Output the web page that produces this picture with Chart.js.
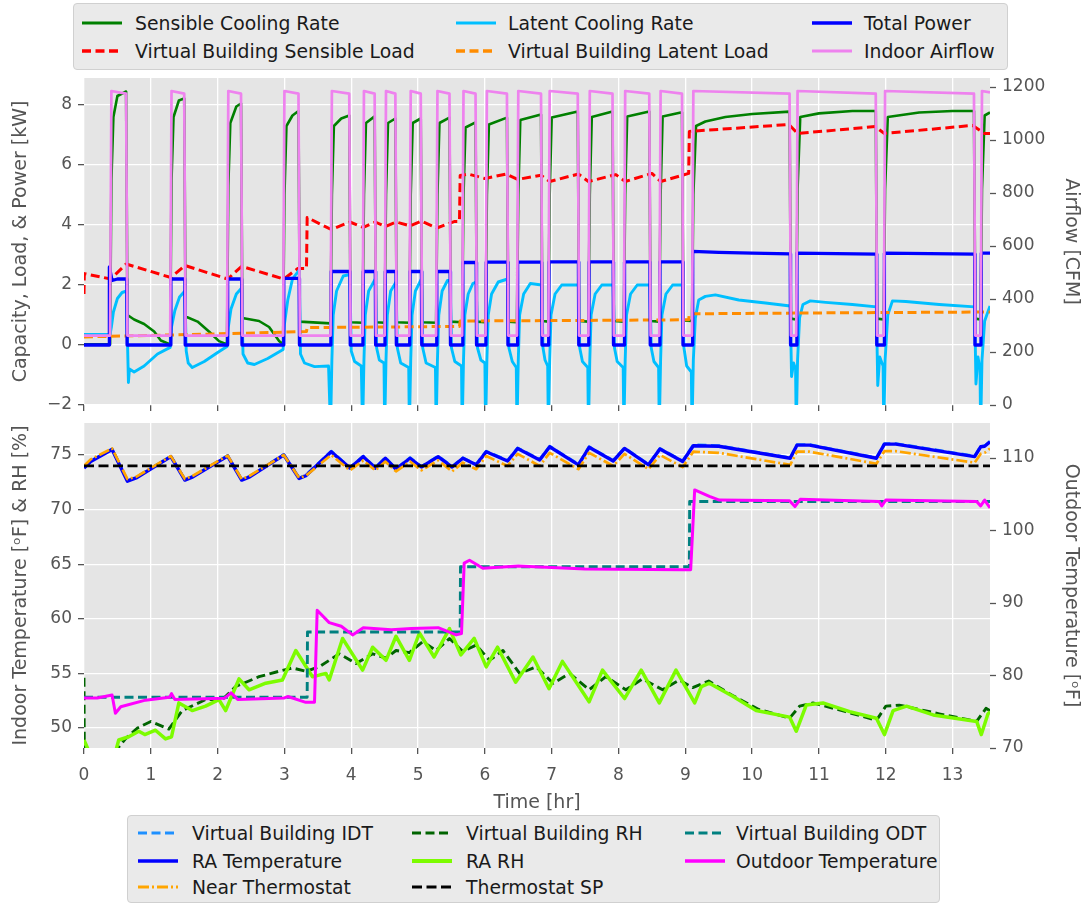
<!DOCTYPE html>
<html>
<head>
<meta charset="utf-8">
<script src="https://cdn.jsdelivr.net/npm/chart.js@4.4.1/dist/chart.umd.min.js"></script>
<style>
  body { margin: 0; background: #fff; width: 1085px; height: 907px; position: relative; overflow: hidden; font-family: 'DejaVu Sans', sans-serif; }
  canvas { position: absolute; left: 0; }
  #topChart { top: 72px; }
  #bottomChart { top: 415px; }
  .legend { position: absolute; background: #eaeaea; border: 1px solid #d0d0d0; border-radius: 4px; box-sizing: border-box; }
  .legend .item { position: absolute; height: 20px; display: flex; align-items: center; white-space: nowrap; font-size: 18.8px; color: #1a1a1a; }
  .legend svg { position: absolute; }
</style>
</head>
<body>
<div id="legendTop" class="legend" style="left:73px; top:3px; width:935px; height:67px;"></div>
<canvas id="topChart" width="1085" height="345"></canvas>
<canvas id="bottomChart" width="1085" height="400"></canvas>
<div id="legendBottom" class="legend" style="left:127px; top:815px; width:813px; height:88px;"></div>
<script>
// ---- tick values ----
const hourTicks = [0,1,2,3,4,5,6,7,8,9,10,11,12,13];
const kwTicks = [-2,0,2,4,6,8];
const cfmTicks = [0,200,400,600,800,1000,1200];
const indoorTicks = [50,55,60,65,70,75];
const outdoorTicks = [70,80,90,100,110];

// ---- upper panel: capacity, load, power [kW] and airflow [CFM] vs time [hr] ----
const sensibleCooling = [
  [0,0.02],[0.39,0.02],[0.41,5.5],[0.44,7.6],[0.5,8.3],[0.63,8.45],[0.65,1.0],[0.75,0.85],[0.9,0.7],[1.05,0.45],[1.15,0.15],[1.29,0.02],
  [1.31,5.5],[1.34,7.6],[1.42,8.15],[1.50,8.22],[1.52,0.95],[1.7,0.78],[1.87,0.45],[2.02,0.13],[2.14,0.02],
  [2.16,5.3],[2.19,7.4],[2.28,7.95],[2.35,8.05],[2.37,0.9],[2.62,0.8],[2.77,0.6],[2.92,0.13],[2.98,0.02],
  [3.00,5.0],[3.03,7.3],[3.12,7.65],[3.21,7.8],[3.23,0.78],[3.69,0.72],
  [3.71,5.0],[3.74,7.3],[3.85,7.55],[3.97,7.65],[3.99,0.76],[4.17,0.74],
  [4.19,5.0],[4.22,7.4],[4.35,7.62],[4.37,0.76],[4.50,0.74],
  [4.52,5.0],[4.55,7.4],[4.66,7.55],[4.68,0.76],[4.87,0.74],
  [4.89,5.0],[4.92,7.4],[5.04,7.55],[5.06,0.76],[5.27,0.74],
  [5.29,5.0],[5.32,7.4],[5.47,7.58],[5.49,0.78],[5.66,0.76],
  [5.68,5.0],[5.71,7.25],[5.86,7.42],[5.88,0.78],[6.01,0.76],
  [6.03,5.0],[6.06,7.35],[6.33,7.58],[6.35,0.78],[6.48,0.76],
  [6.50,5.0],[6.53,7.5],[6.84,7.68],[6.86,0.8],[6.95,0.78],
  [6.97,5.0],[7.0,7.58],[7.39,7.78],[7.41,0.8],[7.55,0.78],
  [7.57,5.0],[7.6,7.6],[7.91,7.78],[7.93,0.8],[8.08,0.78],
  [8.10,5.0],[8.13,7.62],[8.46,7.78],[8.48,0.8],[8.61,0.78],
  [8.63,5.0],[8.66,7.62],[8.95,7.76],[8.97,0.82],[9.10,0.8],
  [9.12,5.0],[9.16,7.3],[9.3,7.45],[9.6,7.6],[10.0,7.7],[10.56,7.78],[10.58,0.88],[10.66,0.85],
  [10.68,5.2],[10.72,7.6],[11.0,7.72],[11.5,7.8],[11.85,7.8],[11.87,0.88],[11.97,0.85],
  [11.99,5.2],[12.03,7.6],[12.5,7.75],[13.0,7.8],[13.32,7.8],[13.34,0.88],[13.42,0.85],
  [13.44,5.2],[13.48,7.65],[13.56,7.75]
];

const latentCooling = [
  [0,0.35],[0.39,0.35],[0.41,0.6],[0.44,1.1],[0.5,1.55],[0.57,1.75],[0.64,1.8],[0.65,0.2],[0.665,-1.25],[0.68,-0.8],[0.75,-0.9],[0.9,-0.7],[1.1,-0.3],[1.29,-0.08],
  [1.31,0.6],[1.36,1.15],[1.43,1.6],[1.51,1.8],[1.53,-0.2],[1.56,-0.6],[1.62,-0.75],[1.8,-0.55],[2.0,-0.25],[2.14,-0.05],
  [2.16,0.6],[2.2,1.2],[2.28,1.7],[2.36,1.9],[2.38,-0.3],[2.45,-0.6],[2.55,-0.65],[2.75,-0.45],[2.98,-0.15],
  [3.00,0.7],[3.05,1.5],[3.12,2.2],[3.22,2.5],[3.24,-0.3],[3.3,-0.6],[3.45,-0.72],[3.66,-0.7],[3.69,-2.8],
  [3.71,-0.5],[3.73,1.0],[3.78,1.8],[3.88,2.3],[3.98,2.35],[4.0,-0.2],[4.05,-0.55],[4.15,-0.7],[4.17,-2.8],
  [4.19,-0.5],[4.21,1.0],[4.26,1.8],[4.36,2.2],[4.38,-0.1],[4.42,-0.5],[4.49,-0.6],[4.50,-2.8],
  [4.52,-0.5],[4.54,1.0],[4.59,1.8],[4.67,2.1],[4.69,-0.1],[4.74,-0.6],[4.86,-0.75],[4.87,-2.8],
  [4.89,-0.5],[4.91,1.0],[4.96,1.8],[5.05,2.2],[5.07,-0.1],[5.12,-0.6],[5.26,-0.75],[5.27,-2.8],
  [5.29,-0.5],[5.31,1.0],[5.36,1.8],[5.44,2.15],[5.48,2.15],[5.5,-0.1],[5.55,-0.55],[5.65,-0.7],[5.66,-2.8],
  [5.68,-0.5],[5.70,1.0],[5.75,1.7],[5.82,2.05],[5.87,2.1],[5.89,-0.1],[5.94,-0.5],[6.0,-0.6],[6.01,-2.8],
  [6.03,-0.5],[6.05,1.0],[6.1,1.7],[6.2,2.1],[6.34,2.2],[6.36,-0.1],[6.41,-0.55],[6.47,-0.75],[6.48,-2.8],
  [6.50,-0.5],[6.52,1.0],[6.58,1.7],[6.68,2.05],[6.85,2.0],[6.87,-0.1],[6.9,-0.5],[6.94,-0.7],[6.95,-2.8],
  [6.97,-0.5],[6.99,1.0],[7.05,1.7],[7.15,2.0],[7.40,2.0],[7.42,-0.1],[7.46,-0.55],[7.54,-0.75],[7.55,-2.8],
  [7.57,-0.5],[7.59,1.0],[7.65,1.7],[7.75,2.0],[7.92,2.0],[7.94,-0.1],[7.98,-0.55],[8.07,-0.75],[8.08,-2.8],
  [8.10,-0.5],[8.12,1.0],[8.18,1.7],[8.28,2.0],[8.47,2.0],[8.49,-0.1],[8.53,-0.55],[8.6,-0.75],[8.61,-2.8],
  [8.63,-0.5],[8.65,1.0],[8.71,1.7],[8.81,2.0],[8.96,2.0],[8.98,-0.1],[9.02,-0.7],[9.09,-0.9],[9.10,-2.8],
  [9.12,-0.5],[9.15,0.9],[9.2,1.5],[9.3,1.62],[9.45,1.67],[9.8,1.5],[10.2,1.4],[10.57,1.3],[10.59,-1.05],[10.62,-0.6],[10.65,-0.8],[10.66,-2.8],
  [10.68,-0.5],[10.71,0.9],[10.76,1.35],[10.87,1.47],[11.1,1.42],[11.5,1.35],[11.86,1.27],[11.88,-1.35],[11.91,-0.4],[11.96,-0.7],[11.97,-2.8],
  [11.99,-0.5],[12.03,1.0],[12.1,1.47],[12.3,1.45],[12.8,1.35],[13.33,1.27],[13.35,-1.3],[13.38,-0.4],[13.41,-0.8],[13.42,-2.8],
  [13.44,-0.5],[13.48,0.8],[13.56,1.3]
];

const totalPower = [
  [0,0],[0.375,0],[0.38,2.6],[0.42,2.15],[0.5,2.2],[0.64,2.2],[0.645,0],
  [1.295,0],[1.30,2.2],[1.51,2.2],[1.515,0],
  [2.145,0],[2.15,2.2],[2.36,2.2],[2.365,0],
  [2.985,0],[2.99,2.22],[3.22,2.22],[3.225,0],
  [3.695,0],[3.70,2.45],[3.98,2.45],[3.985,0],
  [4.175,0],[4.18,2.45],[4.36,2.45],[4.365,0],
  [4.505,0],[4.51,2.45],[4.67,2.45],[4.675,0],
  [4.875,0],[4.88,2.45],[5.05,2.45],[5.055,0],
  [5.275,0],[5.28,2.45],[5.48,2.45],[5.485,0],
  [5.665,0],[5.67,2.75],[5.87,2.75],[5.875,0],
  [6.015,0],[6.02,2.76],[6.34,2.76],[6.345,0],
  [6.485,0],[6.49,2.76],[6.85,2.76],[6.855,0],
  [6.955,0],[6.96,2.77],[7.40,2.77],[7.405,0],
  [7.555,0],[7.56,2.77],[7.92,2.77],[7.925,0],
  [8.085,0],[8.09,2.77],[8.47,2.77],[8.475,0],
  [8.615,0],[8.62,2.77],[8.96,2.77],[8.965,0],
  [9.105,0],[9.11,3.12],[9.5,3.09],[10.0,3.06],[10.57,3.04],[10.575,0],
  [10.665,0],[10.67,3.06],[11.86,3.03],[11.865,0],
  [11.975,0],[11.98,3.06],[13.33,3.03],[13.335,0],
  [13.425,0],[13.43,3.06],[13.56,3.06]
];

const vbSensibleLoad = [
  [0,1.7],[0.005,2.38],[0.40,2.2],[0.63,2.7],[1.30,2.25],[1.51,2.65],[2.15,2.2],[2.36,2.62],[2.99,2.2],[3.20,2.55],[3.33,2.55],
  [3.34,4.25],[3.70,3.85],[3.98,4.1],[4.18,3.92],[4.36,4.1],[4.51,3.95],[4.67,4.1],[4.88,3.97],[5.05,4.13],[5.28,3.9],[5.55,4.12],[5.62,4.12],
  [5.63,5.65],[5.75,5.7],[6.0,5.55],[6.32,5.7],[6.49,5.52],[6.84,5.66],[6.97,5.45],[7.40,5.7],[7.55,5.45],[7.96,5.68],[8.1,5.45],[8.5,5.72],[8.63,5.45],[9.05,5.72],
  [9.06,7.12],[10.55,7.35],[10.68,7.05],[11.84,7.28],[11.98,7.05],[13.3,7.32],[13.48,7.05],[13.56,7.05]
];

const vbLatentLoad = [
  [0,0.27],[1.0,0.32],[2.0,0.37],[3.0,0.43],[3.33,0.45],[3.34,0.58],[4.5,0.6],[5.62,0.62],
  [5.63,0.8],[7.5,0.82],[9.05,0.84],[9.06,1.04],[11.0,1.07],[13.56,1.1]
];

const indoorAirflow = [
  [0,262],[0.39,262],[0.41,1185],[0.63,1175],[0.65,262],
  [1.29,262],[1.31,1185],[1.50,1175],[1.52,262],
  [2.14,262],[2.16,1185],[2.35,1175],[2.37,262],
  [2.98,262],[3.00,1185],[3.21,1175],[3.23,262],
  [3.69,262],[3.71,1185],[3.97,1175],[3.99,262],
  [4.17,262],[4.19,1185],[4.35,1175],[4.37,262],
  [4.50,262],[4.52,1185],[4.66,1175],[4.68,262],
  [4.87,262],[4.89,1185],[5.04,1175],[5.06,262],
  [5.27,262],[5.29,1185],[5.47,1175],[5.49,262],
  [5.66,262],[5.68,1185],[5.86,1175],[5.88,262],
  [6.01,262],[6.03,1185],[6.33,1175],[6.35,262],
  [6.48,262],[6.50,1185],[6.84,1175],[6.86,262],
  [6.95,262],[6.97,1185],[7.39,1175],[7.41,262],
  [7.55,262],[7.57,1185],[7.91,1175],[7.93,262],
  [8.08,262],[8.10,1185],[8.46,1175],[8.48,262],
  [8.61,262],[8.63,1185],[8.95,1175],[8.97,262],
  [9.10,262],[9.12,1185],[10.56,1175],[10.58,262],
  [10.66,262],[10.68,1185],[11.85,1175],[11.87,262],
  [11.97,262],[11.99,1185],[13.32,1175],[13.34,262],
  [13.42,262],[13.44,1185],[13.56,1180]
];

// ---- lower panel: indoor temperature / RH (left) and outdoor temperature (right) ----
const vbIdt = [
  [0,73.85],[0.1,74.45],[0.42,75.55],[0.65,72.65],[0.78,72.95],[1.30,74.9],[1.51,72.75],[1.63,73.05],[2.15,74.95],[2.36,72.75],[2.48,73.05],
  [2.99,75.05],[3.22,72.9],[3.32,73.15],[3.70,75.35],[3.98,73.85],[4.18,74.9],[4.36,73.85],[4.51,74.75],[4.67,73.75],[4.88,74.75],[5.05,73.95],
  [5.30,74.9],[5.51,73.95],[5.67,74.75],[5.87,74.15],[6.02,75.35],[6.34,74.5],[6.49,75.65],[6.82,74.6],[6.97,75.8],[7.40,74.15],[7.56,75.75],
  [7.92,74.5],[8.09,75.65],[8.45,74.15],[8.62,75.6],[8.96,74.45],[9.12,75.95],[9.5,75.85],[10.57,74.75],[10.67,75.95],[10.86,75.95],
  [11.86,74.75],[11.98,76.05],[12.15,76.05],[13.33,74.9],[13.42,75.8],[13.48,75.85],[13.56,76.25]
];

const raTemperature = [
  [0,73.8],[0.1,74.4],[0.42,75.5],[0.65,72.6],[0.78,72.9],[1.30,74.85],[1.51,72.7],[1.63,73.0],[2.15,74.9],[2.36,72.7],[2.48,73.0],
  [2.99,75.0],[3.22,72.85],[3.32,73.1],[3.70,75.3],[3.98,73.8],[4.18,74.85],[4.36,73.8],[4.51,74.7],[4.67,73.7],[4.88,74.7],[5.05,73.9],
  [5.30,74.85],[5.51,73.9],[5.67,74.7],[5.87,74.1],[6.02,75.3],[6.34,74.45],[6.49,75.6],[6.82,74.55],[6.97,75.75],[7.40,74.1],[7.56,75.7],
  [7.92,74.45],[8.09,75.6],[8.45,74.1],[8.62,75.55],[8.96,74.4],[9.12,75.85],[9.5,75.8],[10.57,74.7],[10.67,75.9],[10.86,75.9],
  [11.86,74.7],[11.98,76.0],[12.15,76.0],[13.33,74.85],[13.42,75.75],[13.48,75.8],[13.56,76.2]
];

const nearThermostat = [
  [0,74.0],[0.1,74.6],[0.42,75.6],[0.65,72.8],[0.78,73.0],[1.30,74.9],[1.51,72.8],[1.63,73.1],[2.15,74.95],[2.36,72.8],[2.48,73.1],
  [2.99,75.0],[3.22,72.9],[3.32,73.1],[3.70,75.0],[3.98,73.6],[4.18,74.5],[4.36,73.6],[4.51,74.4],[4.67,73.5],[4.88,74.4],[5.05,73.6],
  [5.30,74.5],[5.51,73.5],[5.67,74.3],[5.87,73.7],[6.02,74.9],[6.34,74.0],[6.49,75.1],[6.82,74.0],[6.97,75.2],[7.40,73.7],[7.56,75.2],
  [7.92,74.0],[8.09,75.1],[8.45,73.7],[8.62,75.0],[8.96,73.9],[9.12,75.3],[9.5,75.2],[10.57,74.1],[10.67,75.3],[10.86,75.3],
  [11.86,74.2],[11.98,75.35],[12.15,75.35],[13.33,74.3],[13.42,75.1],[13.48,75.2],[13.56,75.6]
];

const vbRh = [
  [0,54.6],[0.005,47.5],[0.3,47.3],[0.5,48.1],[0.62,49.0],[0.8,50.0],[1.0,50.6],[1.27,49.9],[1.47,51.6],[1.82,52.6],[2.07,52.6],[2.27,53.8],
  [2.62,54.7],[2.92,55.2],[3.12,55.5],[3.32,55.2],[3.52,55.6],[3.82,56.8],[4.07,55.9],[4.32,56.8],[4.52,56.4],[4.67,57.1],[4.87,56.9],
  [5.07,57.9],[5.27,57.1],[5.47,58.2],[5.67,57.0],[5.87,57.6],[6.07,56.2],[6.27,57.1],[6.52,55.0],[6.77,55.6],[7.02,54.1],[7.27,55.0],
  [7.56,53.5],[7.81,54.7],[8.11,53.5],[8.36,54.5],[8.66,53.5],[8.91,54.4],[9.11,53.7],[9.35,54.3],[9.7,53.0],[10.1,51.7],[10.56,50.9],
  [10.71,52.0],[10.91,52.3],[11.4,51.5],[11.86,50.7],[12.0,52.0],[12.2,52.1],[12.8,51.3],[13.36,50.6],[13.5,51.8],[13.56,51.6]
];

const raRh = [
  [0,48.9],[0.1,47.5],[0.3,46.5],[0.48,48.0],[0.52,48.9],[0.67,49.2],[0.82,49.7],[0.91,49.4],[1.07,49.8],[1.22,49.0],[1.31,49.2],
  [1.42,52.3],[1.62,51.6],[1.82,52.0],[2.02,52.6],[2.12,51.6],[2.32,54.5],[2.47,53.5],[2.72,54.1],[2.97,54.4],[3.17,57.1],[3.42,54.7],
  [3.62,55.0],[3.67,54.4],[3.87,58.2],[4.17,55.3],[4.32,57.4],[4.52,56.2],[4.67,58.4],[4.87,56.2],[5.02,58.7],[5.24,56.5],[5.47,59.1],
  [5.64,56.7],[5.84,58.2],[6.02,55.6],[6.19,57.4],[6.46,54.2],[6.72,56.5],[6.96,53.6],[7.16,56.1],[7.56,52.4],[7.76,55.3],[8.09,52.7],
  [8.34,55.3],[8.61,52.3],[8.86,55.3],[9.14,52.3],[9.24,53.8],[9.36,54.1],[9.71,52.9],[10.06,51.6],[10.56,51.0],[10.66,49.7],[10.81,52.1],
  [11.06,52.3],[11.46,51.5],[11.86,50.9],[11.98,49.4],[12.11,51.6],[12.31,52.0],[12.71,51.2],[13.36,50.6],[13.43,49.4],[13.53,51.3],[13.56,51.5]
];

const thermostatSp = [[0,74],[13.56,74]];

const vbOdt = [[0,77],[3.34,77],[3.345,86],[5.63,86],[5.635,95],[9.06,95],[9.065,104],[13.56,104]];

const outdoorTemp = [
  [0,76.9],[0.2,76.9],[0.42,77.3],[0.47,74.8],[0.55,75.7],[0.92,76.6],[1.28,77.0],[1.31,77.5],[1.36,76.7],[2.1,76.85],[2.2,77.6],[2.3,76.7],
  [3.0,76.9],[3.05,77.1],[3.32,76.3],[3.45,76.3],[3.49,89.0],[3.67,87.3],[3.85,86.8],[4.02,85.6],[4.18,86.6],[4.6,86.3],[4.9,86.5],[5.3,86.6],
  [5.57,85.6],[5.65,85.8],[5.69,95.5],[5.77,95.9],[5.97,94.8],[6.5,95.1],[7.5,94.7],[8.97,94.6],[9.08,94.6],[9.14,105.6],[9.36,104.7],
  [9.51,104.2],[10.56,104.1],[10.64,103.3],[10.72,104.3],[11.9,104.0],[11.94,103.4],[12.0,104.2],[13.36,104.0],[13.42,103.4],[13.48,104.2],[13.56,103.1]
];

// ---- helpers ----
const FONT = 'DejaVu Sans';
Chart.defaults.font.family = FONT;
Chart.defaults.animation = false;

const pts = arr => arr.map(([x, y]) => ({ x, y }));
const minusSign = v => (v < 0 ? '\u2212' + Math.abs(v) : String(v));

function line(label, data, color, width, dash, axis, order) {
  return {
    label, data: pts(data), yAxisID: axis, order,
    borderColor: color, backgroundColor: color, borderWidth: width,
    borderDash: dash || [], pointRadius: 0, fill: false, tension: 0,
    borderJoinStyle: 'round', clip: 0
  };
}

const plotBackground = {
  id: 'plotBackground',
  beforeDraw(chart) {
    const { ctx, chartArea: a } = chart;
    ctx.save();
    ctx.fillStyle = '#e5e5e5';
    ctx.fillRect(a.left, a.top, a.right - a.left, a.bottom - a.top);
    ctx.restore();
  }
};

// pin the plot box: fixed axis sizes, no extra room for end labels
function pinSize(prop, value) {
  return s => {
    s[prop] = value;
    s.paddingTop = s.paddingBottom = s.paddingLeft = s.paddingRight = 0;
  };
}
const useTicks = values => axis => { axis.ticks = values.map(value => ({ value })); };

const gridOpts = { color: '#ffffff', lineWidth: 1.3, tickColor: '#555555', tickLength: 6, tickWidth: 1.3 };
const tickFont = { family: FONT, size: 17 };
const titleFont = { family: FONT, size: 19 };

function timeAxis(showLabels, height) {
  return {
    type: 'linear', min: 0, max: 13.56,
    border: { display: false },
    grid: gridOpts,
    ticks: { display: showLabels, color: '#555', font: tickFont, padding: 11, callback: v => String(v) },
    afterBuildTicks: useTicks(hourTicks),
    title: { display: showLabels, text: 'Time [hr]', color: '#555', font: titleFont, padding: { top: 0, bottom: 1 } },
    afterFit: pinSize('height', height)
  };
}

function valueAxis(pos, min, max, tickValues, title, grid, width, pad) {
  return {
    type: 'linear', position: pos, min, max,
    border: { display: false },
    grid: grid ? gridOpts : { drawOnChartArea: false, tickColor: '#555555', tickLength: 6, tickWidth: 1.3 },
    ticks: { color: '#555', font: tickFont, padding: 6, callback: minusSign },
    afterBuildTicks: useTicks(tickValues),
    title: { display: true, text: title, color: '#555', font: titleFont, padding: { top: pad, bottom: 0 } },
    afterFit: pinSize('width', width)
  };
}

// ---- charts ----
const topSets = [
  line('Sensible Cooling Rate', sensibleCooling, '#008000', 2.6, null, 'y', 5),
  line('Virtual Building Sensible Load', vbSensibleLoad, '#ff0000', 3, [9, 4.5], 'y', 4),
  line('Latent Cooling Rate', latentCooling, '#00bfff', 2.9, null, 'y', 3),
  line('Virtual Building Latent Load', vbLatentLoad, '#ff8c00', 3, [9, 4.5], 'y', 2),
  line('Total Power', totalPower, '#0000ff', 3.3, null, 'y', 1),
  line('Indoor Airflow', indoorAirflow, '#ee82ee', 2.7, null, 'y2', 0)
];

new Chart(document.getElementById('topChart'), {
  type: 'line',
  data: { datasets: topSets },
  options: {
    responsive: false, animation: false,
    layout: { autoPadding: false, padding: { top: 6, left: 0, right: 0, bottom: 0 } },
    plugins: { legend: { display: false }, tooltip: { enabled: false } },
    scales: {
      x: timeAxis(false, 12),
      y: valueAxis('left', -2, 8.9, kwTicks, 'Capacity, Load, & Power [kW]', true, 84, 10),
      y2: valueAxis('right', 0, 1234, cfmTicks, 'Airflow [CFM]', false, 95, 3)
    }
  },
  plugins: [plotBackground]
});

const bottomSets = [
  line('Virtual Building IDT', vbIdt, '#1e90ff', 2.8, [9, 4.5], 'y', 7),
  line('RA Temperature', raTemperature, '#0000ff', 3.4, null, 'y', 6),
  line('Near Thermostat', nearThermostat, '#ffa500', 2.7, [11, 3, 2, 3], 'y', 5),
  line('Virtual Building RH', vbRh, '#006400', 2.9, [9, 4.5], 'y', 4),
  line('RA RH', raRh, '#7cfc00', 3.5, null, 'y', 3),
  line('Thermostat SP', thermostatSp, '#000000', 2.9, [10, 4.5], 'y', 2),
  line('Virtual Building ODT', vbOdt, '#008080', 2.9, [9, 4.5], 'y2', 1),
  line('Outdoor Temperature', outdoorTemp, '#ff00ff', 3, null, 'y2', 0)
];

new Chart(document.getElementById('bottomChart'), {
  type: 'line',
  data: { datasets: bottomSets },
  options: {
    responsive: false, animation: false,
    layout: { autoPadding: false, padding: { top: 8, left: 0, right: 0, bottom: 0 } },
    plugins: { legend: { display: false }, tooltip: { enabled: false } },
    scales: {
      x: timeAxis(true, 67),
      y: valueAxis('left', 48.17, 77.93, indoorTicks, 'Indoor Temperature [\u1D52F] & RH [%]', true, 84, 10),
      y2: valueAxis('right', 70, 114.83, outdoorTicks, 'Outdoor Temperature [\u1D52F]', false, 95, 3)
    }
  },
  plugins: [plotBackground]
});

// ---- legends (column-major, like the dataset order) ----
function buildLegend(el, sets, rows, colX, textX, rowY) {
  sets.forEach((ds, i) => {
    const c = Math.floor(i / rows), r = i % rows;
    const dash = ds.borderDash.length ? `stroke-dasharray="${ds.borderDash.join(' ')}"` : '';
    const item = document.createElement('div');
    item.className = 'item';
    item.style.left = colX[c] + 'px';
    item.style.top = (rowY[r] - 10) + 'px';
    item.innerHTML =
      `<svg width="42" height="20" style="left:0;top:0"><line x1="1" y1="10" x2="41" y2="10" stroke="${ds.borderColor}" stroke-width="${ds.borderWidth + 0.3}" ${dash}/></svg>` +
      `<span style="position:absolute;left:${textX[c] - colX[c]}px">${ds.label}</span>`;
    el.appendChild(item);
  });
}

buildLegend(document.getElementById('legendTop'), topSets, 2, [7, 381, 737], [61, 434, 790], [19, 47]);
buildLegend(document.getElementById('legendBottom'), bottomSets, 3, [9, 283, 556], [64, 338, 608], [17, 45, 71]);
</script>
</body>
</html>
